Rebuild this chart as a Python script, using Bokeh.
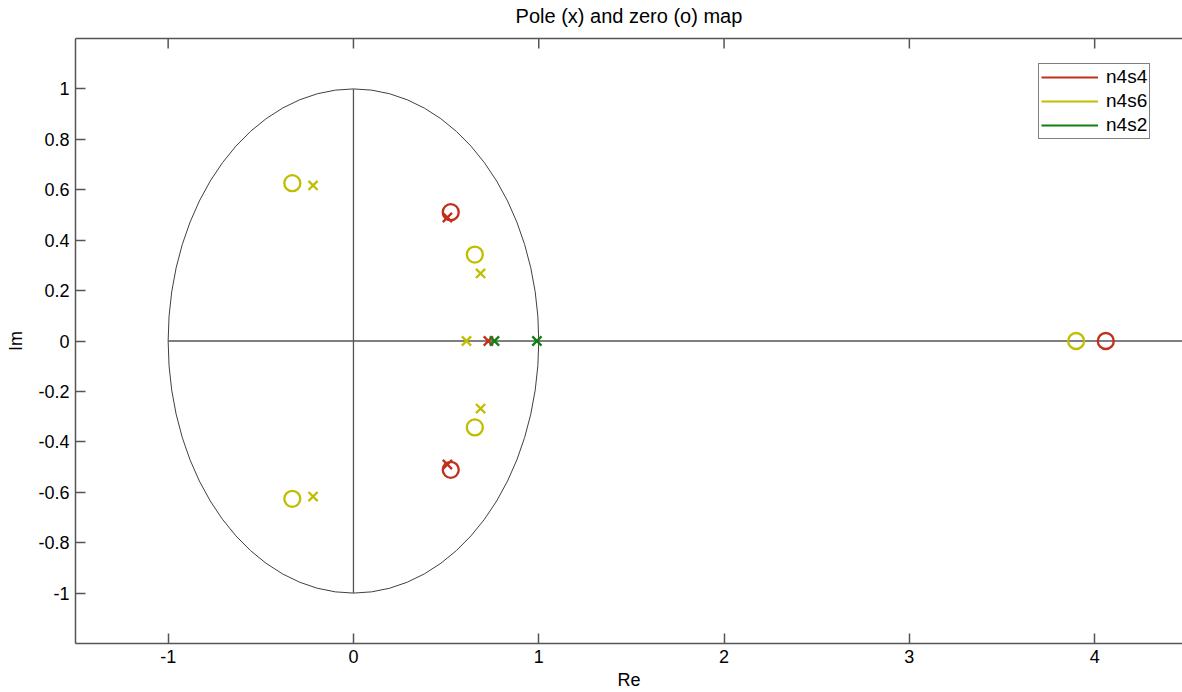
from bokeh.plotting import figure
from bokeh.models import (Range1d, FixedTicker, LinearAxis, CustomJSTickFormatter,
                          Legend, LegendItem)
from bokeh.embed import file_html
from bokeh.resources import INLINE

# ---- data ----
n4s4_zero_re = [0.525, 0.525, 4.06]
n4s4_zero_im = [0.511, -0.511, 0.0]
n4s4_pole_re = [0.507, 0.507, 0.728]
n4s4_pole_im = [0.490, -0.490, 0.0]

n4s6_zero_re = [-0.33, -0.33, 0.655, 0.655, 3.90]
n4s6_zero_im = [0.626, -0.626, 0.343, -0.343, 0.0]
n4s6_pole_re = [-0.218, -0.218, 0.686, 0.686, 0.61]
n4s6_pole_im = [0.617, -0.617, 0.268, -0.268, 0.0]

n4s2_pole_re = [0.761, 0.99]
n4s2_pole_im = [0.0, 0.0]

series_names = ["n4s4", "n4s6", "n4s2"]
series_colors = ["#C0301A", "#BFBF00", "#108010"]

x_ticks = [-1, 0, 1, 2, 3, 4]
y_ticks = [-1, -0.8, -0.6, -0.4, -0.2, 0, 0.2, 0.4, 0.6, 0.8, 1]

TITLE = "Pole (x) and zero (o) map"
FONT = "Liberation Sans"
AX = "#555555"
X_MIN, X_MAX, Y_MIN, Y_MAX = -1.5, 4.474, -1.2, 1.2

p = figure(width=1182, height=692, output_backend="svg", toolbar_location=None,
           x_range=Range1d(X_MIN, X_MAX), y_range=Range1d(Y_MIN, Y_MAX),
           x_axis_location=None, y_axis_location=None,
           min_border_left=75, min_border_right=0, min_border_top=38, min_border_bottom=48)
p.grid.visible = False
p.outline_line_color = None
p.background_fill_color = "white"
p.border_fill_color = "white"
p.title.visible = False

fmt = CustomJSTickFormatter(code="return String(Number(tick.toFixed(1)));")

def mk_axis(ticks, label, tick_standoff, label_standoff):
    ax = LinearAxis(ticker=FixedTicker(ticks=ticks), formatter=fmt)
    ax.axis_line_color = AX
    ax.axis_line_width = 1.5
    ax.major_tick_line_color = AX
    ax.major_tick_line_width = 1.5
    ax.major_tick_in = 10
    ax.major_tick_out = 0
    ax.minor_tick_line_color = None
    ax.major_label_text_font = FONT
    ax.major_label_text_font_size = "18px"
    ax.major_label_text_color = "black"
    ax.major_label_standoff = tick_standoff
    ax.axis_label = label
    ax.axis_label_text_font = FONT
    ax.axis_label_text_font_size = "18px"
    ax.axis_label_text_font_style = "normal"
    ax.axis_label_text_color = "black"
    ax.axis_label_standoff = label_standoff
    return ax

xax = mk_axis(x_ticks, "Re", 6, 4)
xax.axis_label_text_line_height = 0.8
p.add_layout(xax, "below")
p.add_layout(mk_axis(y_ticks, "Im", 6, 9), "left")

# top frame line carrying the title as its label; inward ticks drawn as segments
top_ax = LinearAxis(ticker=FixedTicker(ticks=[]))
top_ax.axis_line_color = AX
top_ax.axis_line_width = 1.5
top_ax.major_tick_out = 0
top_ax.major_label_standoff = 0
top_ax.minor_tick_line_color = None
top_ax.axis_label = TITLE
top_ax.axis_label_text_font = FONT
top_ax.axis_label_text_font_size = "20px"
top_ax.axis_label_text_font_style = "normal"
top_ax.axis_label_text_color = "black"
top_ax.axis_label_standoff = 12
p.add_layout(top_ax, "above")
tick_len = 10 * (Y_MAX - Y_MIN) / 606.0
p.segment(x0=x_ticks, x1=x_ticks, y0=[Y_MAX] * len(x_ticks),
          y1=[Y_MAX - tick_len] * len(x_ticks), line_color=AX, line_width=1.5)

# unit circle and axes lines
p.ellipse(x=[0], y=[0], width=[2], height=[2], fill_color=None, line_color="#404040", line_width=1)
p.line(x=[-1, X_MAX + 0.2], y=[0, 0], line_color="#555555", line_width=1.3)
p.line(x=[0, 0], y=[-1, 1], line_color="#555555", line_width=1.3)

zeros = [(n4s4_zero_re, n4s4_zero_im), (n4s6_zero_re, n4s6_zero_im), ([], [])]
poles = [(n4s4_pole_re, n4s4_pole_im), (n4s6_pole_re, n4s6_pole_im), (n4s2_pole_re, n4s2_pole_im)]

items = []
for name, color, (zr, zi), (pr, pi) in zip(series_names, series_colors, zeros, poles):
    if zr:
        p.scatter(x=zr, y=zi, marker="circle", size=16, fill_color=None,
                  line_color=color, line_width=2.3)
    p.scatter(x=pr, y=pi, marker="x", size=13, line_color=color, line_width=2.3)
    lr = p.line(x=pr, y=pi, line_color=color, line_width=2.2, visible=False)
    items.append(LegendItem(label=name, renderers=[lr]))

legend = Legend(items=items, location=(963, 504))
legend.label_text_font = FONT
legend.label_text_font_size = "19px"
legend.label_text_color = "black"
legend.glyph_width = 57
legend.glyph_height = 18
legend.label_height = 18
legend.spacing = 2
legend.padding = 2
legend.margin = 0
legend.border_line_color = "black"
legend.border_line_width = 1
legend.label_standoff = 8
legend.inactive_fill_alpha = 0
p.add_layout(legend, "center")

open("out.html", "w").write(file_html(p, INLINE))
